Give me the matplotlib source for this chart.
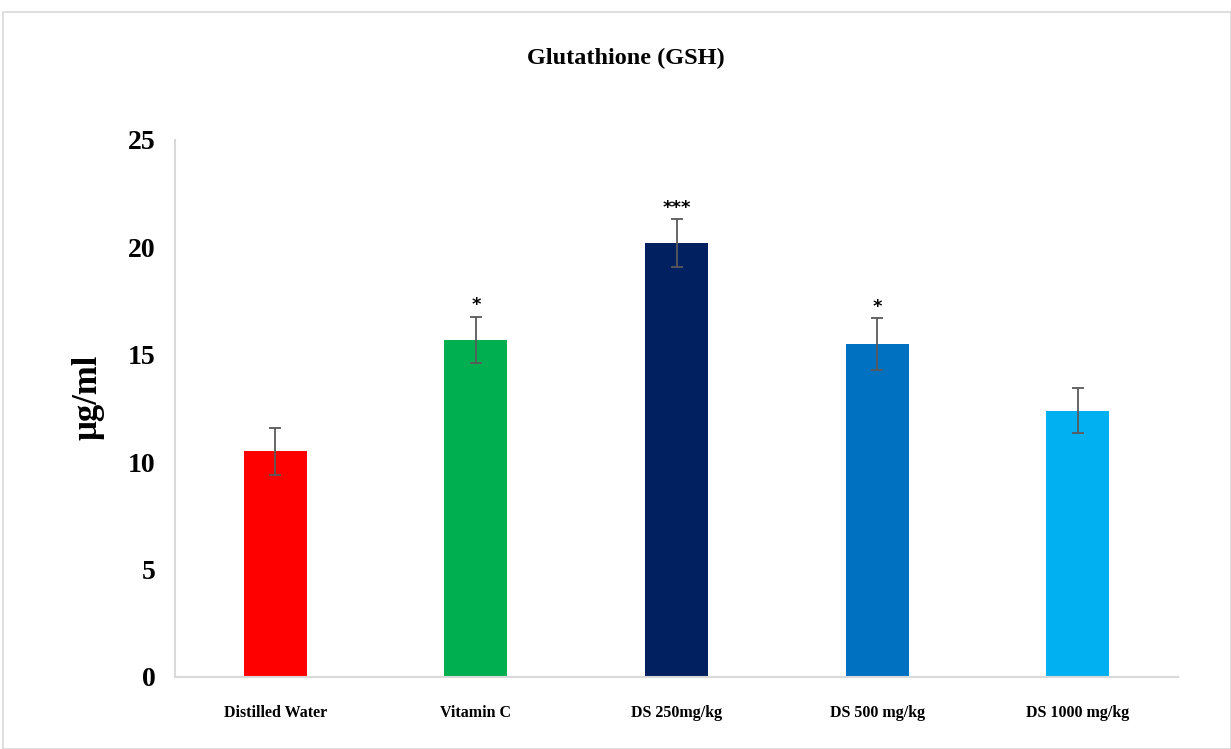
import matplotlib
matplotlib.use("Agg")
import matplotlib.pyplot as plt
from matplotlib.patches import Rectangle

categories = ["Distilled Water", "Vitamin C", "DS 250mg/kg", "DS 500 mg/kg", "DS 1000 mg/kg"]
values = [10.5, 15.7, 20.2, 15.5, 12.4]
errors = [1.1, 1.07, 1.1, 1.2, 1.05]
signif = ["", "*", "***", "*", ""]
colors = ["#FF0000", "#00B050", "#002060", "#0070C0", "#00B0F0"]
yticks = [0, 5, 10, 15, 20, 25]

serif = "Liberation Serif"

fig = plt.figure(figsize=(12.31, 7.49), dpi=100)
fig.patches.append(Rectangle((3 / 1231, 0), 1 - 3 / 1231, 1 - 12 / 749,
                             transform=fig.transFigure, fill=False,
                             edgecolor="#D9D9D9", linewidth=1.2))
ax = fig.add_axes([175 / 1231, 1 - 677 / 749, (1178 - 175) / 1231, (677 - 140) / 749])

x = list(range(len(categories)))
ax.bar(x, values, width=0.315, color=colors, zorder=2)
ax.errorbar(x, values, yerr=errors, fmt="none", ecolor="#595959",
            elinewidth=1.3, capsize=4, capthick=1.3, zorder=3)
for xi, v, e, s in zip(x, values, errors, signif):
    if s:
        ax.text(xi, v + e + 0.12, s, ha="center", va="bottom",
                fontsize=13, fontweight="bold", color="black", family="DejaVu Sans")

ax.set_xlim(-0.5, len(categories) - 0.5)
ax.set_ylim(0, 25)
ax.set_yticks(yticks)
ax.set_yticklabels([str(t) for t in yticks], family=serif, fontweight="bold", fontsize=20)
ax.set_xticks(x)
ax.set_xticklabels(categories, family=serif, fontweight="bold", fontsize=11.5)
ax.tick_params(axis="both", length=0)
ax.tick_params(axis="y", pad=14)
ax.tick_params(axis="x", pad=20)
for side in ["top", "right"]:
    ax.spines[side].set_visible(False)
ax.spines["left"].set_color("#D9D9D9")
ax.spines["bottom"].set_color("#D9D9D9")
ax.spines["left"].set_linewidth(1.5)
ax.spines["bottom"].set_linewidth(1.5)

ax.set_ylabel("μg/ml", family=serif, fontweight="bold", fontsize=25)
ax.yaxis.set_label_coords(-0.0867, 0.521)
ax.yaxis.label.set_va("center")
fig.text(626 / 1231, 1 - 58 / 749, "Glutathione (GSH)", ha="center", va="center",
         family=serif, fontweight="bold", fontsize=17.5)

fig.savefig("out.png", dpi=100)
